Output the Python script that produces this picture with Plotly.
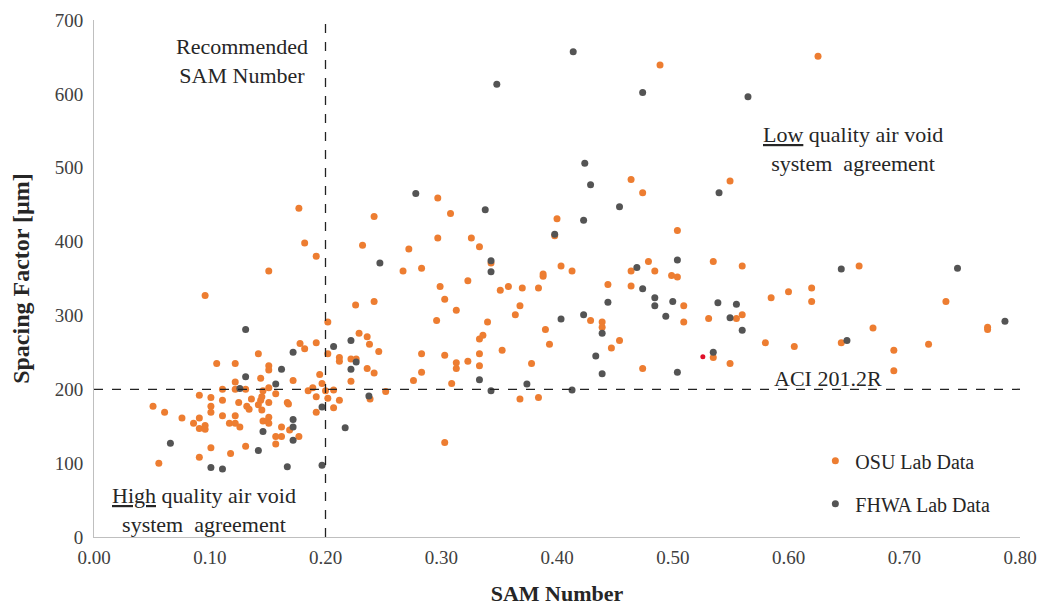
import plotly.graph_objects as go

# OSU Lab Data
osu_sam = [0.051, 0.061, 0.056, 0.076, 0.086, 0.091, 0.091, 0.091, 0.096, 0.096,
           0.091, 0.101, 0.101, 0.101, 0.101, 0.106, 0.111, 0.111, 0.111, 0.117,
           0.118, 0.122, 0.122, 0.122, 0.122, 0.122, 0.126, 0.125, 0.131, 0.131,
           0.132, 0.134, 0.136, 0.142, 0.142, 0.144, 0.144, 0.145, 0.146, 0.145,
           0.146, 0.150, 0.151, 0.151, 0.151, 0.151, 0.151, 0.151, 0.157, 0.157,
           0.157, 0.162, 0.162, 0.167, 0.168, 0.172, 0.169, 0.177, 0.178, 0.182,
           0.185, 0.189, 0.192, 0.192, 0.192, 0.195, 0.197, 0.202, 0.202, 0.202,
           0.207, 0.207, 0.212, 0.212, 0.212, 0.222,
           0.177, 0.151, 0.096, 0.182, 0.192, 0.242, 0.232, 0.226, 0.242, 0.229,
           0.236, 0.238, 0.246, 0.222, 0.283, 0.297, 0.308, 0.297, 0.326, 0.333,
           0.272, 0.267, 0.283, 0.323, 0.299, 0.303, 0.313, 0.296, 0.340, 0.333,
           0.336, 0.303, 0.333, 0.351, 0.343, 0.323,
           0.2265, 0.236, 0.242, 0.200, 0.252, 0.2385,
           0.464, 0.474, 0.489, 0.6255, 0.5495,
           0.400, 0.398, 0.504, 0.4035, 0.413, 0.479, 0.464, 0.4845, 0.535, 0.499,
           0.504, 0.358, 0.370, 0.384, 0.388, 0.388, 0.368, 0.364, 0.390, 0.3935,
           0.378, 0.3526, 0.444, 0.464, 0.429, 0.439, 0.439, 0.447, 0.454, 0.474,
           0.5095, 0.5095, 0.531, 0.535, 0.283, 0.276, 0.309, 0.313, 0.313, 0.333,
           0.368, 0.384,
           0.560, 0.661, 0.555, 0.560, 0.585, 0.600, 0.620, 0.620, 0.736, 0.673,
           0.772, 0.772, 0.580, 0.605, 0.6456, 0.721, 0.691, 0.691, 0.5495,
           0.303]
osu_sf = [177, 169, 100, 161, 154, 192, 161, 147, 151, 146,
          108, 189, 177, 169, 121, 235, 200, 185, 164, 154,
          113, 235, 210, 200, 164, 154, 149, 182, 200, 123,
          177, 173, 187, 248, 179, 215, 185, 190, 198, 172,
          157, 157, 232, 226, 202, 182, 162, 154, 194, 136,
          126, 149, 136, 182, 180, 212, 145, 136, 262, 255,
          198, 202, 263, 190, 169, 220, 208, 291, 248, 188,
          199, 175, 243, 238, 185, 211,
          445, 360, 327, 398, 380, 434, 395, 314, 319, 276,
          271, 261, 251, 241, 248, 459, 438, 405, 405, 393,
          390, 360, 364, 347, 339, 322, 307, 293, 291, 268,
          273, 246, 248, 334, 371, 238,
          241, 228, 222, 198, 197, 187,
          484, 466, 639, 651, 482,
          431, 408, 415, 367, 360, 373, 360, 360, 373, 354,
          352, 339, 337, 337, 353, 356, 313, 301, 281, 261,
          235, 253, 342, 340, 293, 291, 284, 256, 266, 228,
          313, 291, 296, 243, 223, 212, 208, 236, 228, 232,
          187, 189,
          367, 367, 296, 301, 324, 332, 337, 319, 319, 283,
          284, 281, 263, 258, 263, 261, 253, 225, 235,
          128]

# FHWA Lab Data
fhwa_sam = [0.066, 0.101, 0.111, 0.131, 0.131, 0.126, 0.142, 0.146, 0.157, 0.162,
            0.167, 0.172, 0.172, 0.172, 0.172, 0.197, 0.197, 0.207, 0.217, 0.222,
            0.222, 0.2265, 0.2375, 0.278, 0.338, 0.247, 0.343, 0.343, 0.348, 0.414,
            0.474, 0.424, 0.429, 0.565, 0.540, 0.454, 0.423, 0.398, 0.469, 0.474,
            0.4845, 0.4845, 0.500, 0.504, 0.494, 0.444, 0.423, 0.4035, 0.439, 0.4335,
            0.439, 0.504, 0.539, 0.535, 0.333, 0.374, 0.343, 0.413, 0.6456, 0.746,
            0.555, 0.5495, 0.560, 0.6505, 0.787]
fhwa_sf = [127, 94, 92, 281, 217, 201, 117, 143, 207, 227,
           95, 250, 159, 149, 131, 176, 97, 258, 148, 266,
           227, 237, 191, 465, 443, 371, 374, 359, 613, 657,
           602, 506, 477, 596, 466, 447, 429, 410, 365, 336,
           324, 313, 319, 375, 299, 318, 301, 295, 276, 245,
           221, 223, 317, 250, 213, 207, 198, 199, 363, 364,
           315, 297, 280, 266, 292]

# single highlighted point
red_sam = [0.526]
red_sf = [244]

x_ticks = [0.0, 0.1, 0.2, 0.3, 0.4, 0.5, 0.6, 0.7, 0.8]
y_ticks = [0, 100, 200, 300, 400, 500, 600, 700]
sam_limit = 0.20
aci_limit = 200

ORANGE = "#ED7D31"
GRAY = "#545454"
FONT = "Liberation Serif"

fig = go.Figure()
fig.add_trace(go.Scatter(x=osu_sam, y=osu_sf, mode="markers", name="OSU Lab Data",
                         marker=dict(color=ORANGE, size=7), legendgroup="a"))
fig.add_trace(go.Scatter(x=fhwa_sam, y=fhwa_sf, mode="markers", name="FHWA Lab Data",
                         marker=dict(color=GRAY, size=7), legendgroup="b"))
fig.add_trace(go.Scatter(x=red_sam, y=red_sf, mode="markers", showlegend=False,
                         marker=dict(color="#E0102A", size=5)))

fig.add_shape(type="line", x0=sam_limit, x1=sam_limit, y0=0, y1=700, xref="x", yref="y",
              line=dict(color="#222222", width=1.3, dash="dash"))
fig.add_shape(type="line", x0=0, x1=0.8, y0=aci_limit, y1=aci_limit, xref="x", yref="y",
              line=dict(color="#222222", width=1.3, dash="dash"))

ann_font = dict(family=FONT, size=22, color="#262626")
fig.add_annotation(x=0.128, y=644, xref="x", yref="y", text="Recommended<br>SAM Number",
                   showarrow=False, font=ann_font, align="center")
fig.add_annotation(x=0.6557, y=526, xref="x", yref="y",
                   text="<u>Low</u> quality air void<br>system  agreement",
                   showarrow=False, font=ann_font, align="center")
fig.add_annotation(x=0.095, y=37, xref="x", yref="y",
                   text="<u>High</u> quality air void<br>system  agreement",
                   showarrow=False, font=ann_font, align="center")
fig.add_annotation(x=0.634, y=215, xref="x", yref="y", text="ACI 201.2R",
                   showarrow=False, font=ann_font, align="center")

fig.update_layout(
    width=1054, height=604,
    margin=dict(l=86, r=42, t=12, b=75),
    paper_bgcolor="white", plot_bgcolor="white",
    font=dict(family=FONT, color="#404040"),
    showlegend=True,
    legend=dict(x=0.779, y=0.106, xanchor="left", yanchor="middle",
                font=dict(family=FONT, size=20, color="#262626"),
                tracegroupgap=14, itemwidth=30, bgcolor="rgba(0,0,0,0)"),
    xaxis=dict(range=[0, 0.8], tickvals=x_ticks, tickformat=".2f", automargin=False,
               showgrid=False, zeroline=False, showline=True, linecolor="#BFBFBF",
               linewidth=1, ticks="", ticklabelstandoff=3,
               tickfont=dict(family=FONT, size=19, color="#404040"),
               title=dict(text="<b>SAM Number</b>", font=dict(family=FONT, size=22, color="#262626"),
                          standoff=18)),
    yaxis=dict(range=[0, 700], tickvals=y_ticks, automargin=False,
               showgrid=False, zeroline=False, showline=True, linecolor="#BFBFBF",
               linewidth=1, ticks="", ticklabelstandoff=6,
               tickfont=dict(family=FONT, size=19, color="#404040"),
               title=dict(text="<b>Spacing Factor [µm]</b>", font=dict(family=FONT, size=24, color="#262626"),
                          standoff=22)),
)

fig.write_html("out.html")
